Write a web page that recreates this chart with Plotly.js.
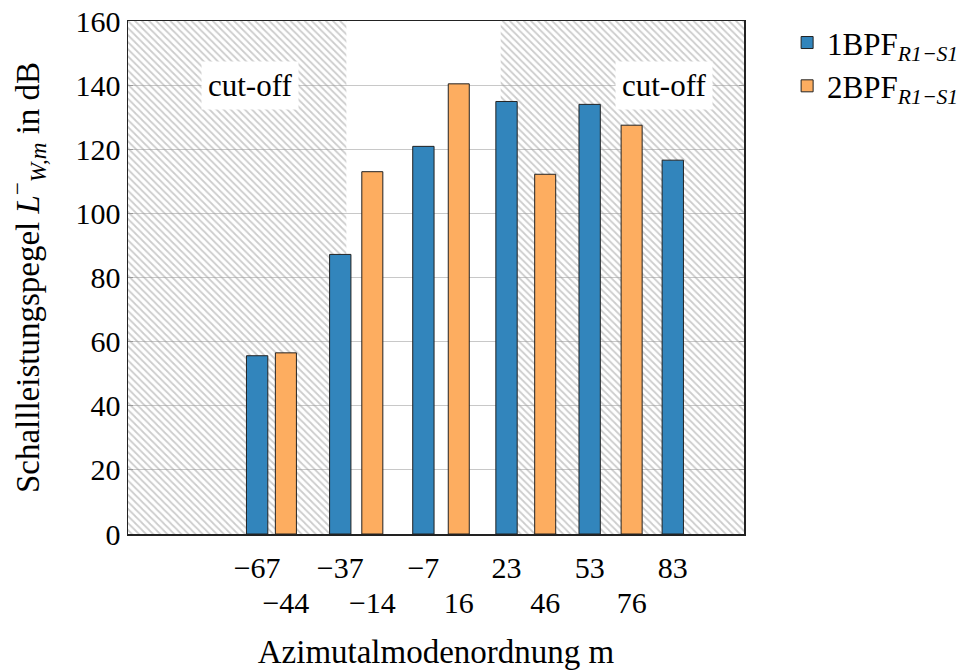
<!DOCTYPE html>
<html>
<head>
<meta charset="utf-8">
<script src="https://cdn.plot.ly/plotly-3.0.1.min.js"></script>
<style>html,body{margin:0;padding:0;background:#fff;}#chart{width:979px;height:671px;}</style>
</head>
<body>
<div id="chart"></div>
<script>
// Data
const blueM = [-67, -37, -7, 23, 53, 83];
const blueVals = [55.6, 87.2, 120.9, 134.9, 134.0, 116.6];
const orangeM = [-44, -14, 16, 46, 76];
const orangeVals = [56.5, 113.0, 140.4, 112.2, 127.5];
const seriesNames = ['1BPF<sub><i>R1−S1</i></sub>', '2BPF<sub><i>R1−S1</i></sub>'];
// cut-off regions (in the scale of the first m axis)
const cutoffLeft = [-113.6, -34.8];
const cutoffRight = [20.9, 108.7];
const yMax = 160;

const fmt = v => String(v).replace('-', '−');
const FONT = '"Liberation Serif", "DejaVu Serif", serif';

const regions = [cutoffLeft, cutoffRight];
const hatch = {
  type: 'bar', xaxis: 'x', yaxis: 'y',
  x: regions.map(r => (r[0] + r[1]) / 2),
  y: regions.map(() => yMax),
  width: regions.map(r => r[1] - r[0]),
  base: 0,
  marker: {color: 'rgba(0,0,0,0)', line: {width: 0},
    pattern: {shape: '\\', fgcolor: '#9a9a9a', size: 5, solidity: 0.35, fillmode: 'overlay'}},
  showlegend: false, hoverinfo: 'skip'
};
const blue = {
  type: 'bar', xaxis: 'x', yaxis: 'y', name: seriesNames[0],
  x: blueM, y: blueVals, width: 7.7,
  marker: {color: '#3285bc', line: {color: '#222', width: 1}}
};
const orange = {
  type: 'bar', xaxis: 'x2', yaxis: 'y', name: seriesNames[1],
  x: orangeM, y: orangeVals, width: 7.3,
  marker: {color: '#fdad60', line: {color: '#222', width: 1}}
};

const layout = {
  width: 979, height: 671,
  margin: {l: 128, r: 235, t: 21, b: 137},
  paper_bgcolor: '#fff', plot_bgcolor: '#fff',
  barmode: 'overlay',
  font: {family: FONT, size: 30, color: '#000'},
  xaxis: {
    range: [-113.6, 108.7], showgrid: false, zeroline: false,
    showline: true, linecolor: '#222', linewidth: 1.5, mirror: true,
    ticks: '', tickvals: blueM, ticktext: blueM.map(fmt),
    tickfont: {family: FONT, size: 30}, ticklabelstandoff: 6
  },
  xaxis2: {
    overlaying: 'x', side: 'bottom', anchor: 'y',
    range: [-98.8, 115.0], showgrid: false, zeroline: false, showline: false,
    ticks: '', tickvals: orangeM, ticktext: orangeM.map(fmt),
    tickfont: {family: FONT, size: 30}, ticklabelstandoff: 48,
    title: {text: 'Azimutalmodenordnung m', font: {family: FONT, size: 33}, standoff: 21}
  },
  yaxis: {
    range: [0, yMax], dtick: 20, showgrid: true, gridcolor: '#c8c8c8', gridwidth: 1,
    zeroline: false, showline: true, linecolor: '#222', linewidth: 1.5, mirror: 'ticks',
    ticks: 'inside', ticklen: 5, tickcolor: '#999', tickfont: {family: FONT, size: 30},
    title: {text: 'Schallleistungspegel <i>L</i><sup>−</sup><sub><i>W,m</i></sub> in dB', font: {family: FONT, size: 33}, standoff: 26}
  },
  legend: {x: 1.07, xanchor: 'left', y: 1.01, yanchor: 'top', bgcolor: 'rgba(0,0,0,0)',
    font: {family: FONT, size: 31}, itemwidth: 30, tracegroupgap: 0},
  annotations: [
    {xref: 'paper', yref: 'y', x: 0.1976, y: 140, xanchor: 'center', yanchor: 'middle', text: 'cut-off', showarrow: false,
     bgcolor: '#fff', borderpad: 6, font: {family: FONT, size: 31}},
    {xref: 'paper', yref: 'y', x: 0.8696, y: 140, xanchor: 'center', yanchor: 'middle', text: 'cut-off', showarrow: false,
     bgcolor: '#fff', borderpad: 6, font: {family: FONT, size: 31}}
  ]
};

Plotly.newPlot('chart', [hatch, blue, orange], layout, {displayModeBar: false, staticPlot: true});
</script>
</body>
</html>
